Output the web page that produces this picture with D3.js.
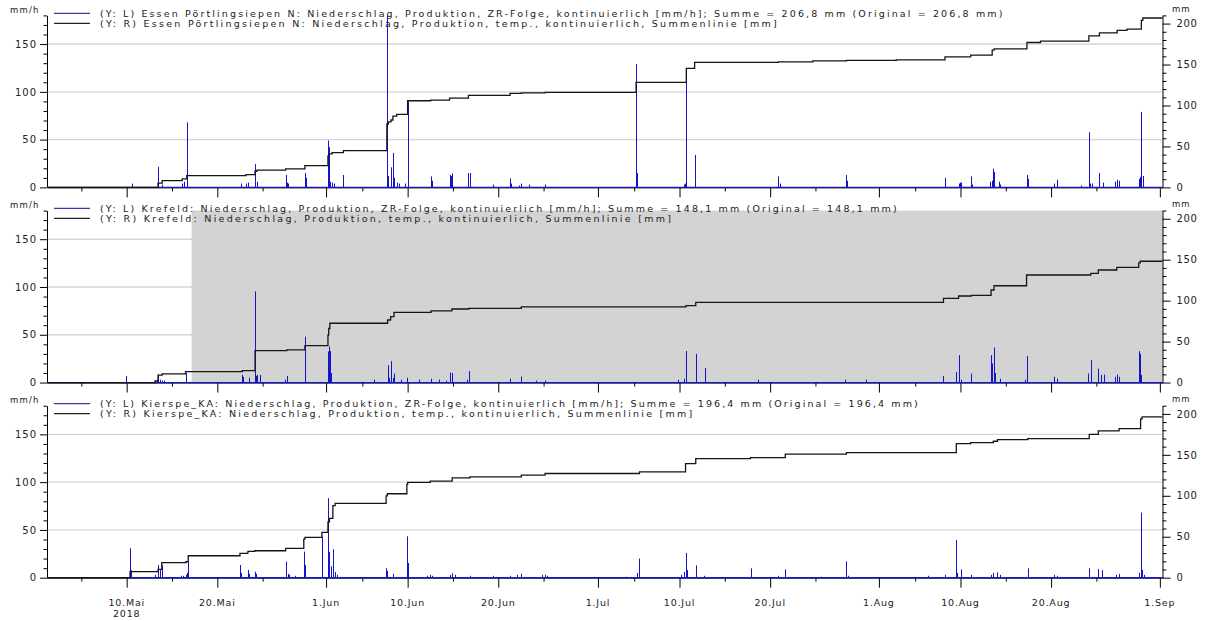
<!DOCTYPE html>
<html>
<head>
<meta charset="utf-8">
<script src="https://cdn.jsdelivr.net/npm/d3@7"></script>
<style>
  html, body { margin: 0; padding: 0; background: #fff; }
  svg { display: block; font-family: "DejaVu Sans", sans-serif; }
</style>
</head>
<body>
<svg id="chart" width="1205" height="621"></svg>
<script>
// ---- Stations and legend facts ----
const stations = ["Essen Pörtlingsiepen N", "Krefeld", "Kierspe_KA"];
const sums = ["206,8", "148,1", "196,4"];

// ---- Precipitation intensity [mm/h] : ["MM-DD HH", value] ----
const essenRate = [
  ["05-10 15",4],["05-13 11",21.5],["05-13 22",3],["05-16 03",4],["05-16 09",6],["05-16 15",68],
  ["05-22 14",4],["05-23 04",4],["05-23 10",5],["05-24 04",24.4],["05-24 09",6],
  ["05-27 13",13],["05-27 17",5],["05-27 20",4],["05-29 16",15],["05-29 18",10],
  ["06-01 05",49],["06-01 07",42],["06-01 11",6],["06-01 16",5],["06-01 21",4],["06-02 22",13],
  ["06-07 17",180],["06-07 21",12],["06-08 04",21],["06-08 09",36],["06-08 12",10],["06-08 19",5],
  ["06-09 00",4],["06-09 16",4],["06-10 00",90],
  ["06-12 13",11.5],["06-12 16",7],["06-14 15",13],["06-14 19",12],["06-14 22",14.7],["06-16 17",15],["06-16 20",15],
  ["06-19 10",3],["06-21 07",9.4],["06-21 09",4],["06-22 08",2],["06-22 13",4],["06-23 09",3],["06-25 04",3],
  ["07-05 05",129],["07-05 07",15],["07-10 11",3],["07-10 15",4],["07-10 18",124],["07-11 16",34],["07-11 18",15],
  ["07-20 22",11.5],["07-21 01",4],["07-28 10",13],["07-28 12",7],
  ["08-08 07",10],["08-09 20",4],["08-10 00",5],["08-10 02",5],["08-11 03",11.5],["08-11 06",3],
  ["08-13 07",6],["08-13 12",7],["08-13 14",19.6],["08-13 17",16],["08-14 06",6],["08-14 09",3],
  ["08-17 08",13],["08-17 11",9],["08-20 07",4],["08-20 16",8],["08-23 08",2],
  ["08-24 04",57.7],["08-24 06",4],["08-24 13",4],["08-25 08",15],["08-25 17",5],
  ["08-27 02",6],["08-27 07",8],["08-27 11",7],["08-29 16",9],["08-29 19",11],["08-29 23",79],["08-30 03",12]
];
const krefeldRate = [
  ["05-09 22",7],["05-13 03",2],["05-13 08",3],["05-13 11",8],["05-13 16",3],["05-13 22",2],["05-14 04",2],
  ["05-16 12",10],["05-16 14",8],
  ["05-22 18",8],["05-22 21",6],["05-23 11",5],["05-24 04",95.4],["05-24 07",7],["05-24 10",8],["05-24 17",8],
  ["05-27 12",3],["05-27 16",7],["05-29 16",48],
  ["06-01 05",32.5],["06-01 07",37.7],["06-01 10",33],["06-01 12",10],["06-01 14",5],
  ["06-06 06",3],["06-07 19",18],["06-07 23",5],["06-08 03",22.4],["06-08 09",5],["06-08 12",9.4],
  ["06-09 07",3],["06-09 22",5],["06-11 07",3],["06-12 14",4],["06-13 12",3],["06-14 05",2],
  ["06-14 15",10.5],["06-14 21",10],["06-16 13",3],["06-16 18",12],
  ["06-21 08",4],["06-22 13",6.3],["06-24 05",2],["06-25 04",2],
  ["07-09 19",3],["07-10 12",4],["07-10 17",33],["07-11 19",30],["07-12 20",15.4],
  ["07-18 16",3],["07-28 06",3],["07-30 15",3],
  ["08-08 03",7],["08-09 13",11],["08-09 19",28.7],["08-10 02",3],["08-11 05",9.4],
  ["08-13 09",28.7],["08-13 12",20],["08-13 17",36.7],["08-13 19",10],["08-14 09",4],
  ["08-17 03",3],["08-17 07",27.6],["08-20 07",6],["08-20 16",4],
  ["08-24 02",9.4],["08-24 09",23.4],["08-25 05",14.7],["08-25 12",8],["08-25 20",8.4],
  ["08-27 01",6],["08-27 06",8.4],["08-27 12",6],
  ["08-29 16",32.8],["08-29 20",30],["08-29 23",8]
];
const kierspeRate = [
  ["05-10 09",30.8],["05-10 12",8],
  ["05-13 03",3],["05-13 11",13.3],["05-13 16",8],["05-13 21",13],
  ["05-16 00",2],["05-16 05",2],["05-16 13",3],["05-16 17",5],["05-16 19",16.8],
  ["05-22 12",13.3],["05-22 16",5],["05-23 09",8],["05-23 11",4],["05-24 03",6.3],["05-24 07",4],
  ["05-27 13",16.8],["05-27 18",4],["05-27 21",3],["05-28 14",2],
  ["05-29 13",27.3],["05-29 16",13.3],["05-31 13",43],
  ["06-01 05",83.2],["06-01 07",27],["06-01 09",15.7],["06-01 13",12],["06-01 18",29.7],["06-01 19",9],
  ["06-02 00",6],["06-02 06",3],
  ["06-07 15",9.8],["06-07 18",7],["06-08 09",4],["06-09 22",43.3],["06-10 00",15.4],
  ["06-12 04",2],["06-12 12",3],["06-12 17",2],["06-14 17",3],["06-14 22",4.5],["06-15 05",3],
  ["06-16 21",2],["06-19 10",2],["06-21 08",2],["06-22 01",3],["06-22 13",4.2],["06-24 20",3],["06-25 04",3],["06-25 10",2],
  ["07-04 02",1],["07-05 08",5],["07-05 14",20],
  ["07-10 04",3],["07-10 11",6],["07-10 16",25.9],["07-10 19",8],["07-11 19",12.9],["07-12 17",2],
  ["07-17 20",9.8],["07-20 22",2],["07-21 16",8.7],["07-25 15",1],["07-28 10",17.1],["07-28 14",2],
  ["08-06 11",2],["08-08 06",3],["08-09 13",39.5],["08-09 16",5],["08-10 02",8.7],["08-11 03",3],
  ["08-13 09",3],["08-13 15",5],["08-14 02",5.6],["08-14 09",3],["08-17 10",9.8],["08-20 09",3],["08-20 16",2],
  ["08-24 05",9.8],["08-25 05",9],["08-25 14",8],["08-27 04",3],["08-27 12",4],
  ["08-29 16",5],["08-29 21",68.1],["08-30 01",8],["08-30 05",3]
];

// ---- Running totals [mm] : level reached at the given time ----
const essenTotal = [
  ["05-13 11",5.1],["05-13 22",8.3],["05-16 03",10.4],["05-16 15",14.4],["05-23 04",15.6],["05-24 04",19.7],
  ["05-24 09",21],["05-27 13",22.5],["05-29 16",26.6],
  ["06-01 05",38.5],["06-01 07",41],["06-01 16",42.4],["06-02 22",44.9],["06-07 17",77.4],["06-07 21",80],
  ["06-08 04",82.3],["06-08 09",87.1],["06-08 19",89.2],["06-10 00",105.8],
  ["06-12 13",106.6],["06-14 15",109],["06-16 17",112.3],["06-21 07",114.8],["06-22 13",115.5],["06-25 04",116],
  ["07-05 05",128.2],["07-10 18",145.3],["07-11 16",152.6],["07-20 22",153.3],["07-24 17",154.5],["07-28 10",155],
  ["08-02 22",155.8],["08-08 07",159.4],["08-11 03",161.5],["08-13 12",167.6],["08-13 17",169.2],
  ["08-17 08",176.9],["08-18 20",178.5],
  ["08-24 04",185],["08-25 08",188.7],["08-27 07",191.6],["08-28 09",193.2],["08-29 23",204],["08-30 03",206.8]
];
const krefeldTotal = [
  ["05-13 03",2],["05-13 11",9],["05-13 22",10.6],["05-16 12",13.4],["05-22 18",14.6],["05-24 04",39],
  ["05-27 16",39.9],["05-29 16",45.1],
  ["06-01 05",58],["06-01 07",66],["06-01 10",72.4],["06-07 19",76.4],["06-08 03",80.4],["06-08 12",85.8],
  ["06-12 14",87.4],["06-14 21",89.8],["06-16 18",90.6],["06-22 13",92.3],
  ["07-10 17",93.9],["07-11 19",98],
  ["08-08 03",102.8],["08-09 19",105.7],["08-11 05",106.5],["08-13 09",113],["08-13 17",118.2],["08-17 07",131.3],
  ["08-24 09",133.3],["08-25 05",137.4],["08-27 06",140.6],["08-29 16",146],["08-29 20",148.1]
];
const kierspeTotal = [
  ["05-10 09",7.3],["05-13 11",10.2],["05-13 21",18.3],["05-16 13",19.5],["05-16 19",26.8],["05-22 12",29.7],
  ["05-23 09",32.1],["05-24 03",32.9],["05-27 13",35.8],["05-29 13",47],["05-29 16",49.2],["05-31 13",55.3],
  ["06-01 05",68.2],["06-01 09",72.4],["06-01 18",88],["06-02 00",90.7],["06-07 15",100],["06-07 18",102.5],
  ["06-09 22",114],["06-10 00",116.3],["06-12 12",117.8],["06-14 22",121.9],["06-16 21",123.1],
  ["06-22 13",125.2],["06-25 04",127.2],
  ["07-05 14",129.2],["07-10 16",139.4],["07-11 19",145.5],["07-17 20",146.7],["07-21 16",150.8],["07-28 10",152.8],
  ["08-09 13",163.8],["08-11 03",165],["08-13 15",166.6],["08-14 02",168.7],["08-17 10",169.9],
  ["08-24 05",175.1],["08-25 05",179.2],["08-27 12",182.1],["08-29 21",194],["08-30 01",196.4]
];

// Shaded period shown for Krefeld
const krefeldShade = ["05-17 04", "09-01 07"];

// ---- Axis ticks ----
const monthNames = ["Jan","Feb","Mär","Apr","Mai","Jun","Jul","Aug","Sep","Okt","Nov","Dez"];
const majorTicks = ["05-10 00","05-20 00","06-01 00","06-10 00","06-20 00","07-01 00","07-10 00","07-20 00",
                    "08-01 00","08-10 00","08-20 00","09-01 00"];
const minorTicks = ["05-05 00","05-15 00","05-25 00","06-05 00","06-15 00","06-25 00","07-05 00","07-15 00",
                    "07-25 00","08-05 00","08-15 00","08-25 00"];
const leftTicks = d3.range(0, 181, 10);
const rightTicks = d3.range(0, 211, 10);
const gridValues = [50, 100, 150];

const rates = [essenRate, krefeldRate, kierspeRate];
const totals = [essenTotal, krefeldTotal, kierspeTotal];
const shades = [null, krefeldShade, null];

// ---- Drawing ----
const parseT = s => d3.timeParse("%Y-%m-%d %H")("2018-" + s);
const svg = d3.select("#chart");
const BLUE = "#1414c8";
const x = d3.scaleTime()
  .domain([parseT("05-01 05"), parseT("09-01 07")])
  .range([47, 1162.5]);
const [x0, x1] = x.range();
const majorSet = new Set(majorTicks.map(s => +parseT(s)));
const tickDates = majorTicks.concat(minorTicks).map(parseT);

const panelStep = 195.15, firstBase = 187.4, plotH = 172;

stations.forEach((name, i) => {
  const ty = i * panelStep;
  const base = firstBase + ty;
  const g = svg.append("g");
  const yL = d3.scaleLinear().domain([0, 180]).range([base, base - plotH]);
  const yR = d3.scaleLinear().domain([0, 210]).range([base, base - plotH]);

  // horizontal grid
  g.append("g").selectAll("line").data(gridValues).join("line")
    .attr("x1", x0).attr("x2", x1)
    .attr("y1", d => yL(d)).attr("y2", d => yL(d))
    .attr("stroke", "#d6d6d6").attr("stroke-width", 1.4);

  // shaded period
  if (shades[i]) {
    g.append("rect")
      .attr("x", x(parseT(shades[i][0])))
      .attr("y", yL(180))
      .attr("width", x(parseT(shades[i][1])) - x(parseT(shades[i][0])))
      .attr("height", yL(0) - yL(180))
      .attr("fill", "#d3d3d3");
  }

  // left axis
  const gL = g.append("g").attr("transform", `translate(${x0},0)`)
    .call(d3.axisLeft(yL).tickValues(leftTicks).tickSizeOuter(0).tickSize(0)
      .tickFormat(d => d % 50 === 0 ? d : ""));
  gL.select(".domain").attr("stroke", "#000");
  gL.selectAll(".tick line").attr("stroke", "#000").attr("x2", d => d % 50 === 0 ? -7 : -3.5);
  gL.selectAll(".tick text").attr("x", -10).attr("fill", "#222")
    .attr("font-size", 10).attr("font-family", "DejaVu Sans").attr("letter-spacing", 1);

  // right axis
  const gR = g.append("g").attr("transform", `translate(${x1},0)`)
    .call(d3.axisRight(yR).tickValues(rightTicks).tickSizeOuter(0).tickSize(0)
      .tickFormat(d => d % 50 === 0 ? d : ""));
  gR.select(".domain").attr("stroke", "#000");
  gR.selectAll(".tick line").attr("stroke", "#000").attr("x2", d => d % 50 === 0 ? 8 : 4);
  gR.selectAll(".tick text").attr("x", 14).attr("fill", "#222")
    .attr("font-size", 10).attr("font-family", "DejaVu Sans").attr("letter-spacing", 0.6);

  // time axis
  const gx = g.append("g").attr("transform", `translate(0,${base})`)
    .call(d3.axisBottom(x).tickValues(tickDates).tickSizeOuter(0).tickSize(0).tickFormat(""));
  gx.select(".domain").attr("stroke", "#000");
  gx.selectAll(".tick line").attr("stroke", "#000").attr("y2", d => majorSet.has(+d) ? 10 : 4);

  // zero line of the intensity series
  g.append("line")
    .attr("x1", x0).attr("x2", x1).attr("y1", yL(0)).attr("y2", yL(0))
    .attr("stroke", BLUE).attr("stroke-width", 1.2);

  // legend
  const legend = g.append("g").attr("font-size", 9.5).attr("fill", "#222");
  const rows = [
    { color: "#3838b8", y: 13.3,
      text: `(Y: L) ${name}: Niederschlag, Produktion, ZR-Folge, kontinuierlich [mm/h]; Summe = ${sums[i]} mm (Original = ${sums[i]} mm)` },
    { color: "#222", y: 23.3,
      text: `(Y: R) ${name}: Niederschlag, Produktion, temp., kontinuierlich, Summenlinie [mm]` }
  ];
  rows.forEach(r => {
    legend.append("line").attr("x1", 54).attr("x2", 90)
      .attr("y1", r.y + ty).attr("y2", r.y + ty)
      .attr("stroke", r.color).attr("stroke-width", 1.2);
    legend.append("text").attr("x", 100).attr("y", r.y + ty + 3.5)
      .attr("textLength", r.text.length * 7.05).attr("lengthAdjust", "spacing")
      .text(r.text);
  });

  // axis units
  g.append("text").attr("x", 10).attr("y", 13 + ty).attr("font-size", 8.5)
    .attr("letter-spacing", 1.2).attr("fill", "#222").text("mm/h");
  g.append("text").attr("x", 1172).attr("y", 12 + ty).attr("font-size", 8.5)
    .attr("letter-spacing", 1).attr("fill", "#222").text("mm");

  // intensity spikes
  g.append("g").selectAll("line").data(rates[i]).join("line")
    .attr("x1", d => Math.round(x(parseT(d[0]))) + 0.5)
    .attr("x2", d => Math.round(x(parseT(d[0]))) + 0.5)
    .attr("y1", yL(0))
    .attr("y2", d => yL(Math.min(d[1], 180)))
    .attr("stroke", BLUE).attr("stroke-width", 1);

  // running total as a staircase
  const pts = [[x.domain()[0], 0]]
    .concat(totals[i].map(d => [parseT(d[0]), d[1]]));
  pts.push([x.domain()[1], totals[i][totals[i].length - 1][1]]);
  g.append("path").datum(pts)
    .attr("fill", "none").attr("stroke", "#151515").attr("stroke-width", 1.3)
    .attr("d", d3.line().x(d => x(d[0])).y(d => yR(d[1])).curve(d3.curveStepAfter));

  // date labels under the last panel
  if (i === stations.length - 1) {
    const labels = g.append("g").attr("font-size", 9.5).attr("fill", "#222")
      .attr("text-anchor", "middle").attr("letter-spacing", 0.8);
    majorTicks.map(parseT).forEach((d, k) => {
      labels.append("text").attr("x", x(d)).attr("y", base + 28)
        .text(d.getDate() + "." + monthNames[d.getMonth()]);
      if (k === 0) {
        labels.append("text").attr("x", x(d)).attr("y", base + 39).text(d.getFullYear());
      }
    });
  }
});
</script>
</body>
</html>
